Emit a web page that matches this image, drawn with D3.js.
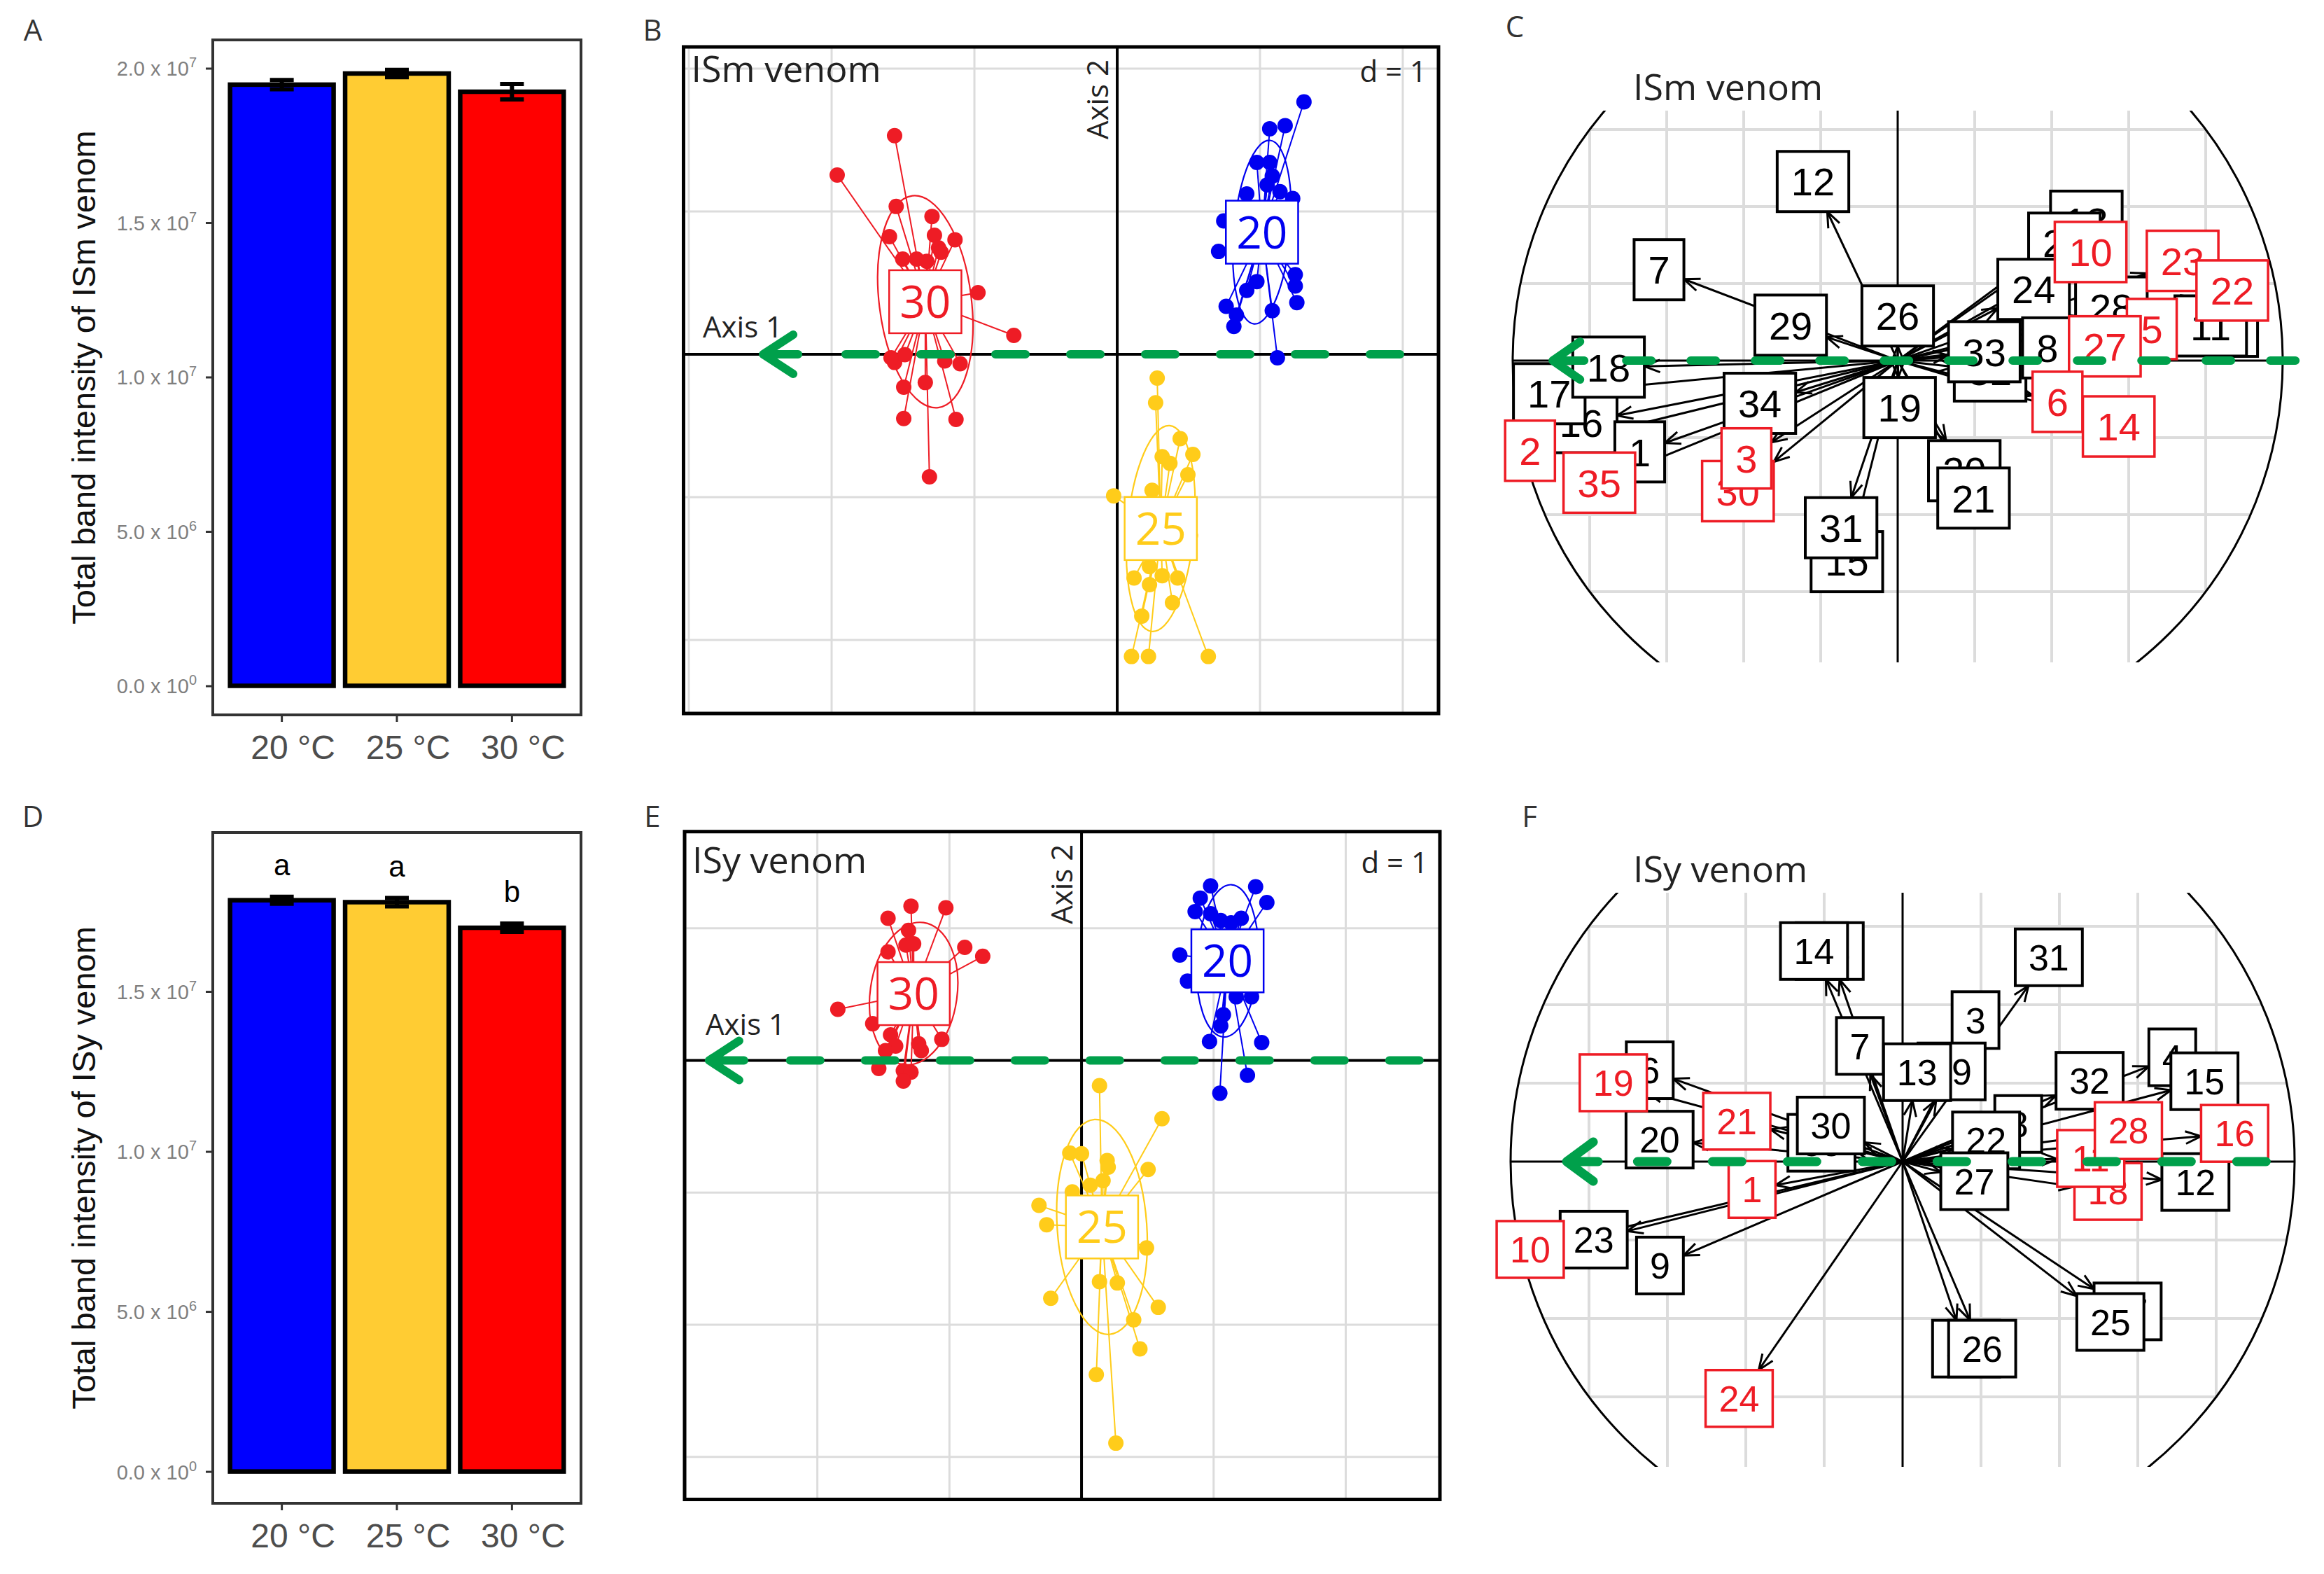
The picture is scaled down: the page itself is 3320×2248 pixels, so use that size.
<!DOCTYPE html>
<html><head><meta charset="utf-8">
<script src="https://cdn.jsdelivr.net/npm/d3@7"></script>
<style>body{margin:0;background:#fff}</style>
</head><body><svg id="fig" width="3320" height="2248" xmlns="http://www.w3.org/2000/svg"></svg>
<script>
// ---------------- DATA ----------------
const categories = ["20 °C", "25 °C", "30 °C"];
const ismMeans = [19.47e6, 19.83e6, 19.24e6];
const ismSE = [0.15e6, 0.12e6, 0.25e6];
const isyMeans = [17.85e6, 17.79e6, 16.99e6];
const isySE = [0.11e6, 0.13e6, 0.13e6];
const isyLetters = ["a", "a", "b"];
const ismTicks = [0, 5e6, 1e7, 1.5e7, 2e7];
const isyTicks = [0, 5e6, 1e7, 1.5e7];

const groupLabels = ["20", "25", "30"];

// PCA scores, ISm venom (panel B)
const ismScores20 = [[1.308,1.767],[1.068,1.579],[1.176,1.601],[0.978,1.343],[1.068,1.343],[1.086,1.248],[1.050,1.186],[0.907,1.123],[1.140,1.138],[1.229,1.091],[0.746,0.934],[0.710,0.720],[1.247,0.557],[1.247,0.478],[0.978,0.509],[0.907,0.447],[1.258,0.362],[0.763,0.336],[0.835,0.274],[0.817,0.195],[1.086,0.305],[1.122,-0.025]];
const ismScores25 = [[0.280,-0.167],[0.269,-0.340],[0.441,-0.591],[0.530,-0.701],[0.315,-0.717],[0.369,-0.764],[0.495,-0.843],[0.244,-0.953],[-0.025,-0.991],[0.190,-1.204],[0.513,-1.267],[0.226,-1.487],[0.118,-1.566],[0.226,-1.613],[0.423,-1.566],[0.315,-1.550],[0.387,-1.739],[0.172,-1.833],[0.100,-2.116],[0.219,-2.116],[0.638,-2.116]];
const ismScores30 = [[-1.559,1.531],[-1.961,1.255],[-1.548,1.035],[-1.297,0.965],[-1.595,0.824],[-1.280,0.833],[-1.136,0.802],[-1.251,0.745],[-1.502,0.667],[-1.405,0.667],[-1.333,0.651],[-1.233,0.714],[-1.423,0.525],[-1.208,0.525],[-0.975,0.431],[-0.724,0.132],[-1.559,-0.057],[-1.487,-0.003],[-1.584,-0.025],[-1.208,-0.047],[-1.100,-0.066],[-1.495,-0.230],[-1.344,-0.198],[-1.495,-0.450],[-1.129,-0.456],[-1.315,-0.858]];
const ismCentersX = [1.014, 0.305, -1.344];
const ismCentersY = [0.855, -1.220, 0.368];
const ismEllRx = [0.197, 0.233, 0.323];
const ismEllRy = [0.645, 0.723, 0.747];
const ismEllAngle = [5, 5, -7];
const ismTempAxis = [2.01, -2.48];

// PCA scores, ISy venom (panel E)
const isyScores20 = [[0.977,1.321],[1.318,1.314],[0.899,1.229],[1.403,1.195],[0.860,1.127],[0.977,1.110],[1.054,1.059],[1.209,1.076],[1.132,1.042],[0.744,0.798],[0.802,0.601],[1.171,0.482],[1.287,0.482],[1.074,0.346],[1.054,0.261],[0.969,0.143],[1.364,0.136],[1.256,-0.112],[1.047,-0.248]];
const isyScores25 = [[0.136,-0.190],[0.609,-0.441],[-0.089,-0.700],[0.000,-0.706],[0.194,-0.757],[0.504,-0.825],[0.202,-0.808],[0.163,-0.910],[0.066,-0.944],[-0.070,-0.995],[-0.322,-1.097],[-0.264,-1.243],[0.492,-1.419],[0.136,-1.674],[0.271,-1.684],[-0.233,-1.800],[0.581,-1.868],[0.395,-1.963],[0.442,-2.183],[0.112,-2.377],[0.260,-2.896]];
const isyScores30 = [[-1.291,1.168],[-1.027,1.155],[-1.465,1.076],[-1.310,0.985],[-1.329,0.873],[-1.271,0.883],[-1.465,0.822],[-0.884,0.856],[-0.748,0.788],[-1.845,0.387],[-1.581,0.278],[-1.446,0.194],[-1.407,0.109],[-1.233,0.126],[-1.058,0.160],[-1.213,0.075],[-1.484,0.075],[-1.535,-0.061],[-1.349,-0.078],[-1.291,-0.088],[-1.349,-0.156]];
const isyCentersX = [1.105, 0.155, -1.271];
const isyCentersY = [0.754, -1.260, 0.506];
const isyEllRx = [0.233, 0.339, 0.329];
const isyEllRy = [0.577, 0.815, 0.543];
const isyEllAngle = [3, -4, 8];
const isyTempAxis = [2.59, -2.82];

// Correlation circle loadings, ISm venom (panel C)
const ismLoadBlack = [["13",0.490,0.362],["25",0.433,0.305],["24",0.353,0.185],["28",0.555,0.139],["4",0.870,0.089],["11",0.813,0.090],["32",0.240,-0.027],["8",0.389,0.033],["33",0.225,0.023],["12",-0.220,0.465],["7",-0.620,0.236],["29",-0.278,0.092],["26",0.000,0.116],["19",0.005,-0.122],["16",-0.822,-0.161],["17",-0.905,-0.086],["18",-0.751,-0.017],["1",-0.670,-0.237],["34",-0.358,-0.111],["15",-0.132,-0.522],["31",-0.147,-0.434],["20",0.173,-0.286],["21",0.197,-0.357]];
const ismLoadRed = [["2",-0.955,-0.234],["35",-0.775,-0.317],["30",-0.415,-0.339],["3",-0.393,-0.254],["23",0.740,0.259],["22",0.869,0.182],["10",0.501,0.282],["5",0.660,0.082],["27",0.538,0.037],["14",0.574,-0.171],["6",0.415,-0.107]];
const ismTempCorr = [1.044, -0.896];

// Correlation circle loadings, ISy venom (panel F)
const isyLoadBlack = [["34",-0.186,0.537],["14",-0.226,0.537],["31",0.373,0.521],["3",0.186,0.361],["7",-0.109,0.295],["29",0.125,0.230],["13",0.037,0.228],["4",0.688,0.266],["15",0.770,0.205],["32",0.477,0.206],["6",-0.645,0.233],["35",-0.207,0.048],["30",-0.183,0.092],["20",-0.620,0.056],["8",0.295,0.096],["22",0.213,0.054],["27",0.183,-0.050],["12",0.747,-0.052],["23",-0.788,-0.199],["9",-0.619,-0.265],["33",0.162,-0.477],["26",0.203,-0.477],["17",0.574,-0.382],["25",0.530,-0.409]];
const isyLoadRed = [["19",-0.738,0.201],["21",-0.423,0.103],["1",-0.384,-0.071],["10",-0.950,-0.224],["24",-0.417,-0.604],["18",0.524,-0.076],["11",0.480,0.008],["28",0.576,0.079],["16",0.847,0.072]];
const isyTempCorr = [0.939, -0.857];

// ---------------- STYLE ----------------
const F_SANS = "'Open Sans','Noto Sans',sans-serif";
const F_ARIAL = "'Liberation Sans',Arial,sans-serif";
const barColors = ["#0000FF", "#FFCC33", "#FF0000"];
const groupColors = ["#0000F0", "#FFCC1A", "#EE1C25"];
const GREEN = "#00A04B";
const RED_T = "#EE1C25";

const svg = d3.select("#fig");
svg.append("rect").attr("width", 3320).attr("height", 2248).attr("fill", "#fff");
const defs = svg.append("defs");

// ---------------- BAR PANELS ----------------
function supFormat(d) {
  if (d === 0) return ["0.0", "0"];
  const e = Math.floor(Math.log10(d) + 1e-9);
  return [(d / Math.pow(10, e)).toFixed(1), String(e)];
}

function barPanel(o) {
  const g = svg.append("g");
  const xb = d3.scaleBand().domain(categories).range([o.x0, o.x1]).paddingInner(0.1).paddingOuter(0.15);
  const y = d3.scaleLinear().domain(o.yDomain).range(o.yRange);

  g.selectAll("rect.bar").data(o.means).join("rect")
    .attr("x", (d, i) => xb(categories[i])).attr("width", xb.bandwidth())
    .attr("y", d => y(d)).attr("height", d => y(0) - y(d))
    .attr("fill", (d, i) => barColors[i]).attr("stroke", "#000").attr("stroke-width", 6.5);

  const eb = g.selectAll("g.eb").data(o.means).join("g");
  const cw = 17;
  const cx = i => xb(categories[i]) + xb.bandwidth() / 2;
  eb.append("line").attr("x1", (d, i) => cx(i)).attr("x2", (d, i) => cx(i))
    .attr("y1", (d, i) => y(d - o.se[i])).attr("y2", (d, i) => y(d + o.se[i]));
  eb.append("line").attr("x1", (d, i) => cx(i) - cw).attr("x2", (d, i) => cx(i) + cw)
    .attr("y1", (d, i) => y(d + o.se[i])).attr("y2", (d, i) => y(d + o.se[i]));
  eb.append("line").attr("x1", (d, i) => cx(i) - cw).attr("x2", (d, i) => cx(i) + cw)
    .attr("y1", (d, i) => y(d - o.se[i])).attr("y2", (d, i) => y(d - o.se[i]));
  eb.selectAll("line").attr("stroke", "#000").attr("stroke-width", 6);

  if (o.letters) {
    g.selectAll("text.let").data(o.letters).join("text")
      .attr("x", (d, i) => cx(i))
      .attr("y", (d, i) => y(o.means[i] + o.se[i]) - 31)
      .attr("text-anchor", "middle").attr("font-family", F_ARIAL).attr("font-size", 42).attr("fill", "#000")
      .text(d => d);
  }

  g.append("rect").attr("x", o.x0).attr("y", o.y0).attr("width", o.x1 - o.x0).attr("height", o.y1 - o.y0)
    .attr("fill", "none").attr("stroke", "#333").attr("stroke-width", 4);

  const ya = g.append("g").attr("transform", `translate(${o.x0},0)`)
    .call(d3.axisLeft(y).tickValues(o.ticks).tickSize(10).tickPadding(13));
  ya.select(".domain").remove();
  ya.selectAll(".tick line").attr("stroke", "#333").attr("stroke-width", 3);
  ya.selectAll(".tick text").each(function (d) {
    const t = d3.select(this);
    const [m, e] = supFormat(d);
    t.text(null).attr("font-family", F_ARIAL).attr("font-size", 29).attr("fill", "#7f7f7f").attr("dy", "0.36em");
    t.append("tspan").text(m + " x 10");
    t.append("tspan").attr("dy", -12).attr("font-size", 20).text(e);
  });

  const xa = g.append("g").attr("transform", `translate(0,${o.y1})`)
    .call(d3.axisBottom(xb).tickSize(10).tickPadding(19));
  xa.select(".domain").remove();
  xa.selectAll(".tick line").attr("stroke", "#333").attr("stroke-width", 3);
  xa.selectAll(".tick text").attr("font-family", F_ARIAL).attr("font-size", 48).attr("fill", "#4d4d4d").attr("dx", 16);

  g.append("text").attr("transform", `translate(136,${(o.y0 + o.y1) / 2}) rotate(-90)`)
    .attr("text-anchor", "middle").attr("font-family", F_ARIAL).attr("font-size", 47).attr("fill", "#111")
    .text(o.title);
}

barPanel({ x0: 304, x1: 830, y0: 57, y1: 1021, yDomain: [0, 2e7], yRange: [979.5, 97.5],
  means: ismMeans, se: ismSE, ticks: ismTicks, title: "Total band intensity of ISm venom" });
barPanel({ x0: 304, x1: 830, y0: 1189, y1: 2147, yDomain: [0, 1.5e7], yRange: [2101.6, 1416],
  means: isyMeans, se: isySE, ticks: isyTicks, letters: isyLetters, title: "Total band intensity of ISy venom" });

// ---------------- GREEN ARROW ----------------
function greenArrow(g, xr, xt, yy, p) {
  g.append("line").attr("x1", xr - p.w / 2).attr("x2", xt + p.armDx + 30).attr("y1", yy).attr("y2", yy)
    .attr("stroke", GREEN).attr("stroke-width", p.w).attr("stroke-linecap", "round")
    .attr("stroke-dasharray", `${p.dash} ${p.period - p.dash}`);
  g.append("path")
    .attr("d", `M${xt + p.armDx},${yy - p.armDy} L${xt},${yy} L${xt + p.armDx},${yy + p.armDy} M${xt},${yy} L${xt + p.shaft},${yy}`)
    .attr("fill", "none").attr("stroke", GREEN).attr("stroke-width", p.w).attr("stroke-linecap", "round").attr("stroke-linejoin", "round");
}

// ---------------- S.CLASS PANELS ----------------
function sclassPanel(o) {
  const g = svg.append("g");
  const x = d3.scaleLinear().domain(o.xDom).range([o.fx0, o.fx1]);
  const y = d3.scaleLinear().domain(o.yDom).range([o.fy0, o.fy1]);
  const ppu = x(1) - x(0);

  const gx = d3.range(Math.ceil(o.xDom[0]), Math.floor(o.xDom[1]) + 1).filter(v => v !== 0);
  const gy = d3.range(Math.ceil(o.yDom[1]), Math.floor(o.yDom[0]) + 1).filter(v => v !== 0);
  g.selectAll("line.gv").data(gx).join("line").attr("x1", d => x(d)).attr("x2", d => x(d)).attr("y1", o.fy0).attr("y2", o.fy1)
    .attr("stroke", "#dcdcdc").attr("stroke-width", 3);
  g.selectAll("line.gh").data(gy).join("line").attr("y1", d => y(d)).attr("y2", d => y(d)).attr("x1", o.fx0).attr("x2", o.fx1)
    .attr("stroke", "#dcdcdc").attr("stroke-width", 3);
  g.append("line").attr("x1", x(0)).attr("x2", x(0)).attr("y1", o.fy0).attr("y2", o.fy1).attr("stroke", "#000").attr("stroke-width", 4);
  g.append("line").attr("y1", y(0)).attr("y2", y(0)).attr("x1", o.fx0).attr("x2", o.fx1).attr("stroke", "#000").attr("stroke-width", 4);

  g.append("text").attr("x", o.fx0 + 11).attr("y", o.titleY).attr("font-family", F_SANS).attr("font-size", 52).attr("fill", "#222").text(o.title);
  g.append("text").attr("x", o.fx1 - 17).attr("y", o.titleY).attr("text-anchor", "end").attr("font-family", F_SANS).attr("font-size", 42).attr("fill", "#222").text("d = 1");
  g.append("text").attr("transform", `translate(${x(0) - 13},${o.fy0 + 18}) rotate(-90)`).attr("text-anchor", "end")
    .attr("font-family", F_SANS).attr("font-size", 42).attr("fill", "#222").text("Axis 2");
  g.append("text").attr("x", o.axis1X).attr("y", y(0) - o.axis1Off).attr("font-family", F_SANS).attr("font-size", 42).attr("fill", "#222").text("Axis 1");

  o.groups.forEach((pts, i) => {
    const col = groupColors[i];
    const cx = x(o.cX[i]), cy = y(o.cY[i]);
    const gg = g.append("g");
    gg.append("ellipse").attr("cx", cx).attr("cy", cy).attr("rx", o.rx[i] * ppu).attr("ry", o.ry[i] * ppu)
      .attr("transform", `rotate(${o.ang[i]},${cx},${cy})`).attr("fill", "none").attr("stroke", col).attr("stroke-width", 2.2);
    gg.selectAll("line").data(pts).join("line").attr("x1", cx).attr("y1", cy).attr("x2", d => x(d[0])).attr("y2", d => y(d[1]))
      .attr("stroke", col).attr("stroke-width", 2);
    gg.selectAll("circle").data(pts).join("circle").attr("cx", d => x(d[0])).attr("cy", d => y(d[1])).attr("r", 11).attr("fill", col);
  });
  groupLabels.forEach((lab, i) => {
    const col = groupColors[i];
    const cx = x(o.cX[i]), cy = y(o.cY[i]);
    const fs = 64, w = lab.length * 0.572 * fs + 30, h = 90;
    g.append("rect").attr("x", cx - w / 2).attr("y", cy - h / 2).attr("width", w).attr("height", h)
      .attr("fill", "#fff").attr("stroke", col).attr("stroke-width", 2.5);
    g.append("text").attr("x", cx).attr("y", cy + fs * 0.36).attr("text-anchor", "middle").attr("font-family", F_SANS)
      .attr("font-size", fs).attr("fill", col).text(lab);
  });

  greenArrow(g, x(o.temp[0]), x(o.temp[1]), y(0), { w: 12, dash: 43, period: 107, armDx: 43, armDy: 28, shaft: 50 });

  g.append("rect").attr("x", o.fx0).attr("y", o.fy0).attr("width", o.fx1 - o.fx0).attr("height", o.fy1 - o.fy0)
    .attr("fill", "none").attr("stroke", "#000").attr("stroke-width", 5);
}

sclassPanel({ xDom: [-3.037, 2.25], yDom: [2.152, -2.515], fx0: 976.5, fx1: 2055, fy0: 67, fy1: 1019,
  title: "ISm venom", titleY: 117, axis1X: 1004, axis1Off: 24,
  groups: [ismScores20, ismScores25, ismScores30], cX: ismCentersX, cY: ismCentersY,
  rx: ismEllRx, ry: ismEllRy, ang: ismEllAngle, temp: ismTempAxis });
sclassPanel({ xDom: [-3.005, 2.713], yDom: [1.732, -3.322], fx0: 978, fx1: 2057, fy0: 1187.7, fy1: 2141.5,
  title: "ISy venom", titleY: 1247, axis1X: 1008, axis1Off: 37,
  groups: [isyScores20, isyScores25, isyScores30], cX: isyCentersX, cY: isyCentersY,
  rx: isyEllRx, ry: isyEllRy, ang: isyEllAngle, temp: isyTempAxis });

// ---------------- CORRELATION CIRCLES ----------------
function corPanel(o) {
  const g = svg.append("g");
  const x = d3.scaleLinear().domain([-1, 1]).range([o.cx - o.R, o.cx + o.R]);
  const y = d3.scaleLinear().domain([1, -1]).range([o.cy - o.R, o.cy + o.R]);
  const rid = "clipR" + o.id, cid = "clipC" + o.id;
  defs.append("clipPath").attr("id", rid).append("rect").attr("x", 2090).attr("y", o.clipY0).attr("width", 1230).attr("height", o.clipY1 - o.clipY0);
  defs.append("clipPath").attr("id", cid).append("circle").attr("cx", o.cx).attr("cy", o.cy).attr("r", o.R);

  const gr = g.append("g").attr("clip-path", `url(#${rid})`);
  const grid = gr.append("g").attr("clip-path", `url(#${cid})`);
  const gv = [-0.8, -0.6, -0.4, -0.2, 0.2, 0.4, 0.6, 0.8];
  grid.selectAll("line.v").data(gv).join("line").attr("x1", d => x(d)).attr("x2", d => x(d)).attr("y1", y(1)).attr("y2", y(-1))
    .attr("stroke", "#dcdcdc").attr("stroke-width", 4);
  grid.selectAll("line.h").data(gv).join("line").attr("y1", d => y(d)).attr("y2", d => y(d)).attr("x1", x(-1)).attr("x2", x(1))
    .attr("stroke", "#dcdcdc").attr("stroke-width", 4);
  gr.append("circle").attr("cx", o.cx).attr("cy", o.cy).attr("r", o.R).attr("fill", "none").attr("stroke", "#000").attr("stroke-width", 3);
  gr.append("line").attr("x1", x(0)).attr("x2", x(0)).attr("y1", o.clipY0).attr("y2", o.clipY1).attr("stroke", "#000").attr("stroke-width", 3);
  g.append("line").attr("x1", x(-1)).attr("x2", x(1)).attr("y1", y(0)).attr("y2", y(0)).attr("stroke", "#000").attr("stroke-width", 3);

  const fs = o.fs, pad = o.pad, bh = o.bh;
  const boxW = lab => lab.length * 0.556 * fs + 2 * pad;
  const all = o.black.concat(o.red);
  const ox = x(0), oy = y(0);
  const ag = g.append("g");
  all.forEach(([lab, vx, vy]) => {
    const lx = x(vx), ly = y(vy);
    const dx = lx - ox, dy = ly - oy;
    const hw = boxW(lab) / 2, hh = bh / 2;
    const f = Math.min(dx !== 0 ? hw / Math.abs(dx) : Infinity, dy !== 0 ? hh / Math.abs(dy) : Infinity);
    if (f >= 1) return;
    const tx = lx - dx * f, ty = ly - dy * f;
    const a = Math.atan2(ty - oy, tx - ox), L = 24, ha = 0.38;
    ag.append("line").attr("x1", ox).attr("y1", oy).attr("x2", tx).attr("y2", ty).attr("stroke", "#000").attr("stroke-width", 3);
    ag.append("path").attr("d", `M${tx - L * Math.cos(a - ha)},${ty - L * Math.sin(a - ha)} L${tx},${ty} L${tx - L * Math.cos(a + ha)},${ty - L * Math.sin(a + ha)}`)
      .attr("fill", "none").attr("stroke", "#000").attr("stroke-width", 3);
  });
  const drawBoxes = (arr, col, sw) => {
    arr.forEach(([lab, vx, vy]) => {
      const lx = x(vx), ly = y(vy), w = boxW(lab);
      g.append("rect").attr("x", lx - w / 2).attr("y", ly - bh / 2).attr("width", w).attr("height", bh)
        .attr("fill", "#fff").attr("stroke", col).attr("stroke-width", sw);
      g.append("text").attr("x", lx).attr("y", ly + fs * 0.36).attr("text-anchor", "middle")
        .attr("font-family", F_ARIAL).attr("font-size", fs).attr("fill", col).text(lab);
    });
  };
  drawBoxes(o.black, "#000", 4);
  drawBoxes(o.red, RED_T, 3.5);

  g.append("text").attr("x", 2333).attr("y", o.titleY).attr("font-family", F_SANS).attr("font-size", 52).attr("fill", "#222").text(o.title);

  greenArrow(g, x(o.temp[0]), x(o.temp[1]), y(0), o.arrow);
}

corPanel({ id: "C", cx: 2711, cy: 515, R: 550, clipY0: 158, clipY1: 946, fs: 56, pad: 20, bh: 86,
  black: ismLoadBlack, red: ismLoadRed, title: "ISm venom", titleY: 143, temp: ismTempCorr,
  arrow: { w: 12, dash: 36, period: 92, armDx: 39, armDy: 27, shaft: 45 } });
corPanel({ id: "F", cx: 2718, cy: 1659, R: 560, clipY0: 1275, clipY1: 2095, fs: 52, pad: 19, bh: 81,
  black: isyLoadBlack, red: isyLoadRed, title: "ISy venom", titleY: 1260, temp: isyTempCorr,
  arrow: { w: 13, dash: 42, period: 107, armDx: 38, armDy: 28, shaft: 45 } });

// ---------------- PANEL LETTERS ----------------
const panelLetters = ["A", "B", "C", "D", "E", "F"];
const letterPos = [[47, 58], [932, 58], [2164, 53], [47, 1181], [932, 1181], [2185, 1181]];
svg.selectAll("text.plab").data(panelLetters).join("text")
  .attr("x", (d, i) => letterPos[i][0]).attr("y", (d, i) => letterPos[i][1]).attr("text-anchor", "middle")
  .attr("font-family", F_SANS).attr("font-size", 42).attr("fill", "#333").text(d => d);
</script>
</body></html>
